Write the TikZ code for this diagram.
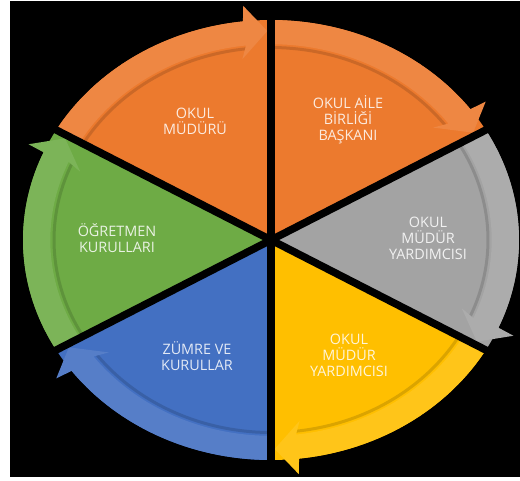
\documentclass[tikz,border=0pt]{standalone}
\usepackage{fontspec}
\setmainfont{Open Sans}
\definecolor{cOr}{HTML}{EC7A2E}
\definecolor{cGr}{HTML}{A3A3A3}
\definecolor{cYe}{HTML}{FFBF00}
\definecolor{cBl}{HTML}{4370C2}
\definecolor{cGn}{HTML}{6EAB45}
\begin{document}
\begin{tikzpicture}[x=1pt,y=-1pt,
  lbl/.style={align=center, text=white, text opacity=0.85,
    font=\fontsize{14.4}{16}\selectfont}]
\useasboundingbox (0,0) rectangle (520,480);
\fill[white] (0,0) rectangle (520,480);
\fill[black] (10,1) rectangle (520,477);
\begin{scope}[shift={(271pt,-240pt)}, x=248pt, y=220pt]
  \foreach \a/\b/\c in {90/30/cOr, 30/-30/cGr, -30/-90/cYe, -90/-150/cBl, 210/150/cGn, 150/90/cOr} {
    \pgfmathsetmacro\be{\b+6.5}
    \pgfmathsetmacro\bw{\b+6}
    \pgfmathsetmacro\bt{\b+0.9}
    \pgfmathsetmacro\bi{\b+8}
    \fill[\c] (0,0) -- plot[domain=\a:\b, samples=40, variable=\t] (\t:1) -- cycle;
    \draw[\c!60!black, line width=3pt, opacity=0.35]
      plot[domain=\a:\be, samples=40, variable=\t] (\t:0.875);
    \fill[\c!90!white] (\a:1) -- plot[domain=\a:\be, samples=40, variable=\t] (\t:1)
      -- (\bw:1.07) -- (\bt:0.95) -- (\bi:0.83) -- (\be:0.89)
      -- plot[domain=\be:\a, samples=40, variable=\t] (\t:0.89) -- cycle;
  }
  \foreach \s in {90,30,-30,-90,-150,150}
    \draw[black, line width=7.5pt] (0,0) -- (\s:1.01);
\end{scope}
\node[lbl] (t1) at (195,121) {OKUL\\MÜDÜRÜ};
\node[lbl] (t2) at (348,120) {OKUL AİLE\\BİRLİĞİ\\BAŞKANI};
\node[lbl] (t3) at (428,238) {OKUL\\MÜDÜR\\YARDIMCISI};
\node[lbl] (t4) at (349,355) {OKUL\\MÜDÜR\\YARDIMCISI};
\node[lbl] (t5) at (197,356) {ZÜMRE VE\\KURULLAR};
\node[lbl] (t6) at (117,238) {ÖĞRETMEN\\KURULLARI};
\end{tikzpicture}
\end{document}
